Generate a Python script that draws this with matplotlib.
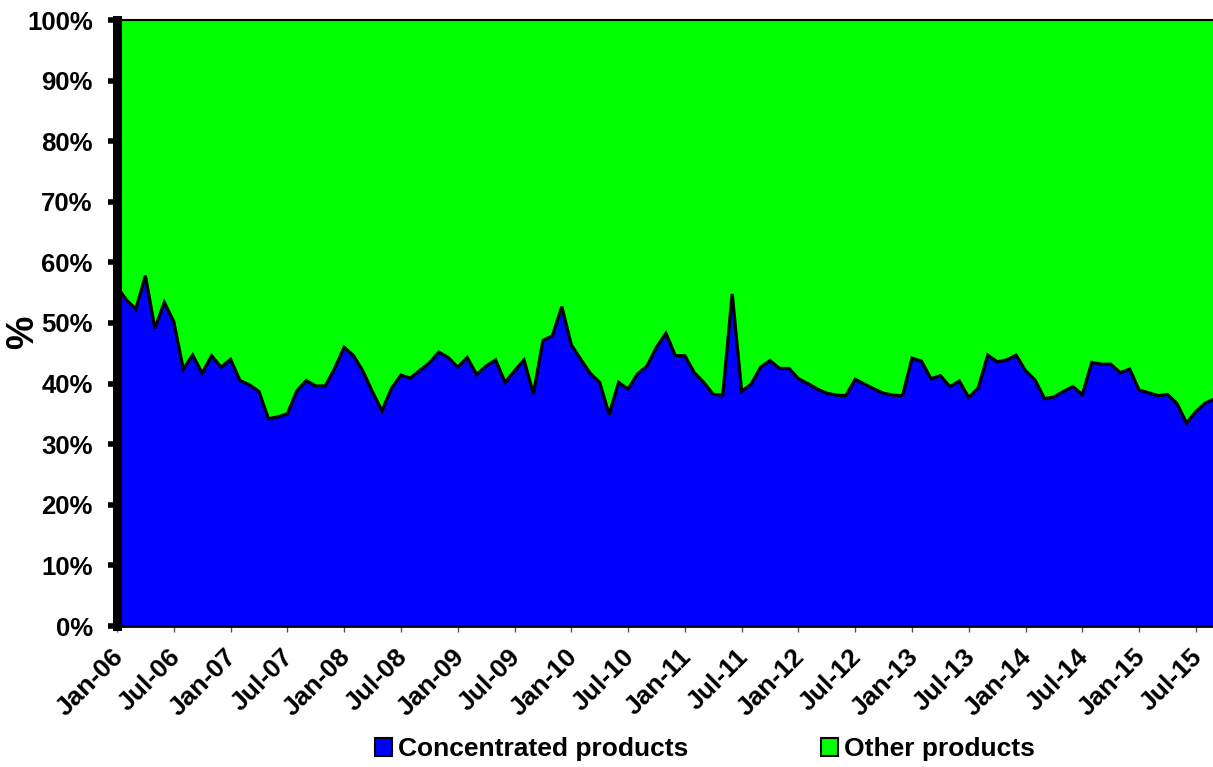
import numpy as np
import pandas as pd
import matplotlib
matplotlib.use("Agg")
import matplotlib.pyplot as plt
from matplotlib.patches import Patch
from matplotlib.ticker import FuncFormatter
import matplotlib.transforms as mtransforms

plt.rcParams['font.family'] = ['Liberation Sans', 'DejaVu Sans']
plt.rcParams['font.weight'] = 'bold'

# share of concentrated products (%), monthly from Jan-06
concentrated = [
    56.0, 53.8, 52.3, 57.8, 49.1, 53.4, 50.2, 42.4, 44.7, 41.7, 44.6, 42.7,
    44.0, 40.5, 39.8, 38.7, 34.2, 34.5, 35.0, 38.8, 40.5, 39.6, 39.6, 42.5,
    46.0, 44.6, 42.0, 38.6, 35.5, 39.2, 41.4, 40.9, 42.2, 43.4, 45.2, 44.3,
    42.7, 44.3, 41.5, 42.9, 43.9, 40.2, 42.1, 43.9, 38.3, 47.1, 47.9, 52.7,
    46.4, 44.0, 41.7, 40.2, 34.9, 40.2, 39.1, 41.6, 42.9, 46.0, 48.3, 44.6,
    44.6, 41.8, 40.2, 38.2, 38.1, 54.8, 38.7, 39.9, 42.7, 43.8, 42.5, 42.5,
    40.8, 40.0, 39.1, 38.4, 38.1, 38.0, 40.7, 39.9, 39.1, 38.4, 38.1, 38.0,
    44.2, 43.7, 40.8, 41.3, 39.5, 40.4, 37.7, 39.3, 44.7, 43.6, 43.9, 44.7,
    42.1, 40.6, 37.5, 37.8, 38.7, 39.5, 38.2, 43.5, 43.2, 43.2, 41.8, 42.4,
    38.9, 38.5, 38.0, 38.2, 36.7, 33.5, 35.4, 36.8, 37.5,
]
other = [100 - v for v in concentrated]
months = pd.date_range('2006-01-01', periods=len(concentrated), freq='MS')
month_labels = [d.strftime('%b-%y') for d in months]
series_names = ['Concentrated products', 'Other products']
colors = ['#0000FF', '#00FF00']

x = np.arange(len(concentrated))

fig = plt.figure(figsize=(12.13, 7.67), dpi=100)
ax = fig.add_axes([117 / 1213, 141 / 767, 1 - 117 / 1213, 606 / 767])

ax.stackplot(x, concentrated, other, colors=colors, linewidth=0)
ax.plot(x, concentrated, color='black', linewidth=2.3, solid_joinstyle='miter')

ax.set_xlim(0, 115.8)
ax.set_ylim(0, 100)

ax.set_yticks(np.arange(0, 101, 10))
ax.yaxis.set_major_formatter(FuncFormatter(lambda v, p: f'{int(v)}%'))
ax.tick_params(axis='y', length=6.5, width=4, color='black', pad=11, labelsize=18.5)

tick_idx = x[::6]
ax.set_xticks(tick_idx)
ax.set_xticklabels([month_labels[i] for i in tick_idx], rotation=45,
                   ha='right', va='top', rotation_mode='anchor')
ax.tick_params(axis='x', length=4.3, width=1, color='#555555', pad=9, labelsize=19)
shift = mtransforms.ScaledTranslation(-6 / 100, 0, fig.dpi_scale_trans)
for lbl in ax.get_xticklabels():
    lbl.set_transform(lbl.get_transform() + shift)

ax.spines['left'].set_linewidth(6.5)
ax.spines['bottom'].set_linewidth(2)
ax.spines['top'].set_linewidth(1.5)
ax.spines['right'].set_visible(False)

fig.text(23 / 1213, 1 - 332 / 767, '%', rotation=90, fontsize=27,
         fontweight='bold', ha='center', va='center')

handles = [Patch(facecolor=c, edgecolor='black', linewidth=1.5) for c in colors]
fig.legend(handles, series_names, loc='center', ncol=2,
           bbox_to_anchor=(705 / 1213, 1 - 749 / 767), frameon=False,
           fontsize=19, handlelength=0.65, handleheight=0.65,
           handletextpad=0.23, columnspacing=5.0)

fig.savefig('out.png', dpi=100)
